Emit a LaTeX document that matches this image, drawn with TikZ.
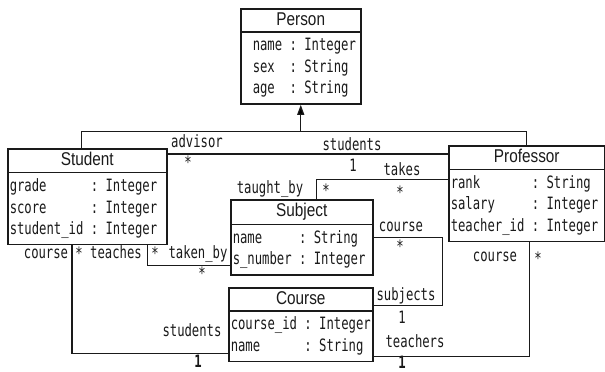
\documentclass[tikz,border=0pt]{standalone}
\usepackage{fontspec}
\usetikzlibrary{arrows.meta,shapes.multipart}
\newfontfamily\attrfont[FakeStretch=0.72]{DejaVu Sans Mono}
\newfontfamily\titlefont[FakeStretch=0.83]{Liberation Sans}
\definecolor{UMLInk}{HTML}{1A1A1A}
\newcommand{\attrsize}{\fontsize{17}{20.5}\selectfont}
\newcommand{\classtitle}[1]{{\titlefont\fontsize{18.5}{22}\selectfont\rule[-3pt]{0pt}{15pt}#1}}
\tikzset{
  umlclass/.style={rectangle split,rectangle split parts=2,
                   rectangle split part align={center,left},
                   draw=UMLInk,line width=1.5pt,text=UMLInk,
                   inner xsep=2pt,inner ysep=3pt,anchor=north west,
                   font=\attrfont\attrsize},
  assoc/.style={draw=UMLInk,line width=1.3pt},
  inherit/.style={assoc,-{Triangle[length=10pt,width=7pt]}},
  role/.style={text=UMLInk,font=\attrfont\attrsize,inner sep=0pt,anchor=base},
  mult/.style={text=UMLInk,font=\attrfont\attrsize,inner sep=0pt},
  multbold/.style={mult,font=\attrfont\attrsize\bfseries},
}
\renewcommand{\arraystretch}{1.05}
\begin{document}
\begin{tikzpicture}[x=1pt,y=-1pt]
    \useasboundingbox[fill=white] (0,0) rectangle (605,372);
    % classes
    \node[umlclass,minimum width=120pt] (person) at (240,8)
      {\classtitle{Person}\nodepart{two}\hspace*{10pt}\begin{tabular}{@{}l@{~:~}l@{}}
        name & Integer\\ sex & String\\ age & String\end{tabular}};
    \node[umlclass,minimum width=159pt] (student) at (7,148)
      {\classtitle{Student}\nodepart{two}\begin{tabular}{@{}l@{~:~}l@{}}
        grade & Integer\\ score & Integer\\ student\_id & Integer\end{tabular}};
    \node[umlclass,minimum width=156pt] (professor) at (448,145)
      {\classtitle{Professor}\nodepart{two}\begin{tabular}{@{}l@{~:~}l@{}}
        rank & String\\ salary & Integer\\ teacher\_id & Integer\end{tabular}};
    \node[umlclass,minimum width=142pt] (subject) at (230,199)
      {\classtitle{Subject}\nodepart{two}\begin{tabular}{@{}l@{~:~}l@{}}
        name & String\\ s\_number & Integer\end{tabular}};
    \node[umlclass,minimum width=144pt] (course) at (228,287)
      {\classtitle{Course}\nodepart{two}\begin{tabular}{@{}l@{~:~}l@{}}
        course\_id & Integer\\ name & String\end{tabular}};

    % generalization
    \path (person.south) ++(0,27) coordinate (genbar);
    \draw[assoc] ([xshift=-6pt]student.north) |- (genbar) -| (professor.north);
    \draw[inherit] (genbar) -- (person.south);

    % associations
    \draw[assoc] ([yshift=-6pt]student.north east) coordinate (adv) -- (adv -| professor.west);
    \draw[assoc] ([yshift=-10pt]professor.text split west) -| ([xshift=15pt]subject.north);
    \draw[assoc] ([yshift=-13pt]subject.text split east) -- ++(69,0) |- ([yshift=6pt]course.text split east);
    \draw[assoc] ([xshift=-20pt]student.south east) |- ([yshift=10pt]subject.south west);
    \draw[assoc] ([xshift=65pt]student.south west) |- ([yshift=9pt]course.south west);
    \draw[assoc] ([xshift=3pt]professor.south) |- ([yshift=6pt]course.south east);

    % role names and multiplicities
    \node[role] (advisorlbl) at (197,147) {advisor};
    \node[mult] (advisormult) at (188,162) {*};
    \node[role] (studentslbl) at (352,150) {students};
    \node[mult] (studentsmult) at (353,165) {1};
    \node[role] (takeslbl) at (402,175) {takes};
    \node[mult] (takesmult) at (400,192) {*};
    \node[role] (taughtlbl) at (270,193) {taught\_by};
    \node[mult] (taughtmult) at (326,190) {*};
    \node[role] (coursesubjlbl) at (401,231) {course};
    \node[mult] (coursesubjmult) at (400,246) {*};
    \node[role] (subjectslbl) at (406,300) {subjects};
    \node[mult] (subjectsmult) at (402,317) {1};
    \node[role] (coursestudlbl) at (46,258) {course};
    \node[mult] (coursestudmult) at (79,253) {*};
    \node[role] (teacheslbl) at (116,258) {teaches};
    \node[mult] (teachesmult) at (155,253) {*};
    \node[role] (takenlbl) at (198,258) {taken\_by};
    \node[mult] (takenmult) at (202,273) {*};
    \node[role] (courseproflbl) at (495,261) {course};
    \node[mult] (courseprofmult) at (538,258) {*};
    \node[role] (studentscourselbl) at (192,336) {students};
    \node[multbold] (studentscoursemult) at (198,361) {1};
    \node[role] (teacherslbl) at (415,347) {teachers};
    \node[multbold] (teachersmult) at (402,362) {1};
\end{tikzpicture}
\end{document}
